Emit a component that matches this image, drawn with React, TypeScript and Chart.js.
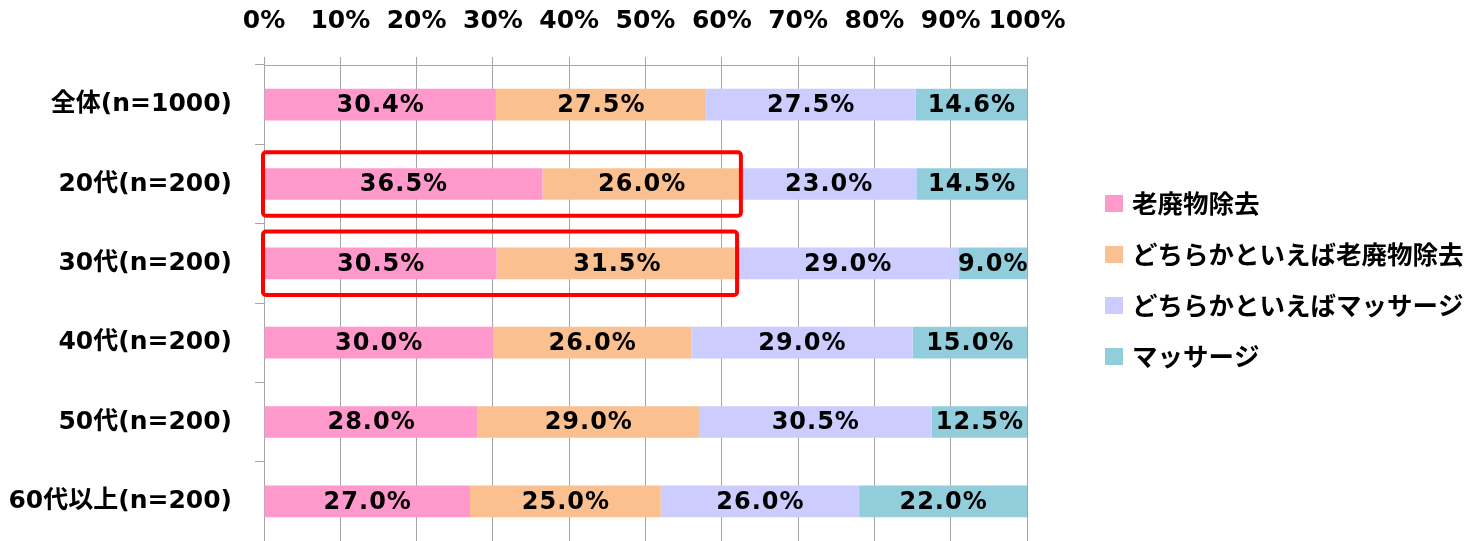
import React, { useEffect, useRef } from "react";
import { Chart, registerables } from "chart.js";

Chart.register(...registerables);

const categories = ["全体(n=1000)", "20代(n=200)", "30代(n=200)", "40代(n=200)", "50代(n=200)", "60代以上(n=200)"];
const seriesNames = ["老廃物除去", "どちらかといえば老廃物除去", "どちらかといえばマッサージ", "マッサージ"];
const seriesColors = ["#FF99CC", "#FAC090", "#CCCCFF", "#92CDDC"];
const s1 = [30.4, 36.5, 30.5, 30.0, 28.0, 27.0];
const s2 = [27.5, 26.0, 31.5, 26.0, 29.0, 25.0];
const s3 = [27.5, 23.0, 29.0, 29.0, 30.5, 26.0];
const s4 = [14.6, 14.5, 9.0, 15.0, 12.5, 22.0];
const highlighted = [1, 2];
const xTicks = [0, 10, 20, 30, 40, 50, 60, 70, 80, 90, 100];

const LATIN = "'DejaVu Sans', 'Noto Sans CJK JP', sans-serif";
const CJK = "'Noto Sans CJK JP', 'DejaVu Sans', sans-serif";

const W = 1483;
const H = 541;

const dataLabelPlugin = {
  id: "dataLabels",
  afterDatasetsDraw(chart: any) {
    const ctx = chart.ctx;
    ctx.save();
    ctx.font = `bold 24px ${LATIN}`;
    (ctx as any).letterSpacing = "1px";
    ctx.fillStyle = "#000";
    ctx.textAlign = "center";
    ctx.textBaseline = "middle";
    chart.data.datasets.forEach((ds: any, di: number) => {
      const meta = chart.getDatasetMeta(di);
      meta.data.forEach((el: any, i: number) => {
        const v = ds.data[i];
        const cx = (el.x + el.base) / 2;
        ctx.fillText(v.toFixed(1) + "%", cx + 0.5, el.y + 1);
      });
    });
    ctx.restore();
  },
};

const highlightPlugin = {
  id: "highlightBoxes",
  afterDatasetsDraw(chart: any) {
    const ctx = chart.ctx;
    const xs = chart.scales.x;
    const ys = chart.scales.y;
    const band = (ys.bottom - ys.top) / categories.length;
    ctx.save();
    ctx.strokeStyle = "#FF0000";
    ctx.lineWidth = 4;
    highlighted.forEach((i) => {
      const sum = s1[i] + s2[i];
      const x0 = xs.getPixelForValue(0) - 1;
      const x1 = xs.getPixelForValue(sum);
      const yc = ys.getPixelForValue(i);
      const h = band * 0.4;
      ctx.beginPath();
      ctx.roundRect(x0, yc - h, x1 - x0, 2 * h, 3);
      ctx.stroke();
    });
    ctx.restore();
  },
};

const legendPlugin = {
  id: "customLegend",
  afterDraw(chart: any) {
    const ctx = chart.ctx;
    const area = chart.chartArea;
    const left = area.right + 78;
    const step = 51;
    const y0 = chart.height / 2 - 1.5 * step + 9.5;
    ctx.save();
    ctx.font = `bold 25.5px ${CJK}`;
    ctx.textAlign = "left";
    ctx.textBaseline = "middle";
    seriesNames.forEach((name, k) => {
      const cy = y0 + k * step;
      ctx.fillStyle = seriesColors[k];
      ctx.fillRect(left, cy - 8.5, 18, 17);
      ctx.fillStyle = "#000";
      ctx.fillText(name, left + 27, cy);
    });
    ctx.restore();
  },
};

export default function App() {
  const ref = useRef<HTMLCanvasElement | null>(null);
  useEffect(() => {
    if (!ref.current) return;
    const series = [s1, s2, s3, s4];
    const chart = new Chart(ref.current, {
      type: "bar",
      data: {
        labels: categories,
        datasets: series.map((d, k) => ({
          label: seriesNames[k],
          data: d,
          backgroundColor: seriesColors[k],
          borderWidth: 0,
          categoryPercentage: 1,
          barPercentage: 0.4,
        })),
      },
      options: {
        indexAxis: "y",
        animation: false,
        responsive: false,
        devicePixelRatio: 1,
        layout: { padding: { left: 0, right: 456, top: 0, bottom: 0 } },
        plugins: {
          legend: { display: false },
          tooltip: { enabled: false },
        },
        scales: {
          x: {
            position: "top",
            stacked: true,
            min: 0,
            max: 100,
            afterBuildTicks: (scale: any) => {
              scale.ticks = xTicks.map((v) => ({ value: v }));
            },
            afterFit: (scale: any) => {
              scale.height = 65;
              scale.paddingTop = 0;
              scale.paddingBottom = 0;
            },
            ticks: {
              callback: (v: any) => v + "%",
              font: { family: LATIN, size: 25, weight: "bold" },
              color: "#000",
              padding: 21,
              maxRotation: 0,
              autoSkip: false,
            },
            grid: { color: "#A6A6A6", lineWidth: 1, tickLength: 8 },
            border: { display: true, color: "#A6A6A6", width: 1 },
          },
          y: {
            stacked: true,
            afterFit: (scale: any) => {
              scale.width = 264;
              scale.paddingTop = 0;
              scale.paddingBottom = 0;
            },
            ticks: {
              font: { family: LATIN, size: 25, weight: "bold" },
              color: "#000",
              padding: 23,
            },
            grid: { drawOnChartArea: false, color: "#A6A6A6", tickLength: 9, offset: true },
            border: { display: true, color: "#A6A6A6", width: 1 },
          },
        },
      },
      plugins: [dataLabelPlugin, highlightPlugin, legendPlugin],
    } as any);
    return () => chart.destroy();
  }, []);
  return (
    <div style={{ position: "absolute", left: 0, top: 0, width: W, height: H, background: "#fff" }}>
      <canvas ref={ref} width={W} height={H} style={{ display: "block" }} />
    </div>
  );
}
